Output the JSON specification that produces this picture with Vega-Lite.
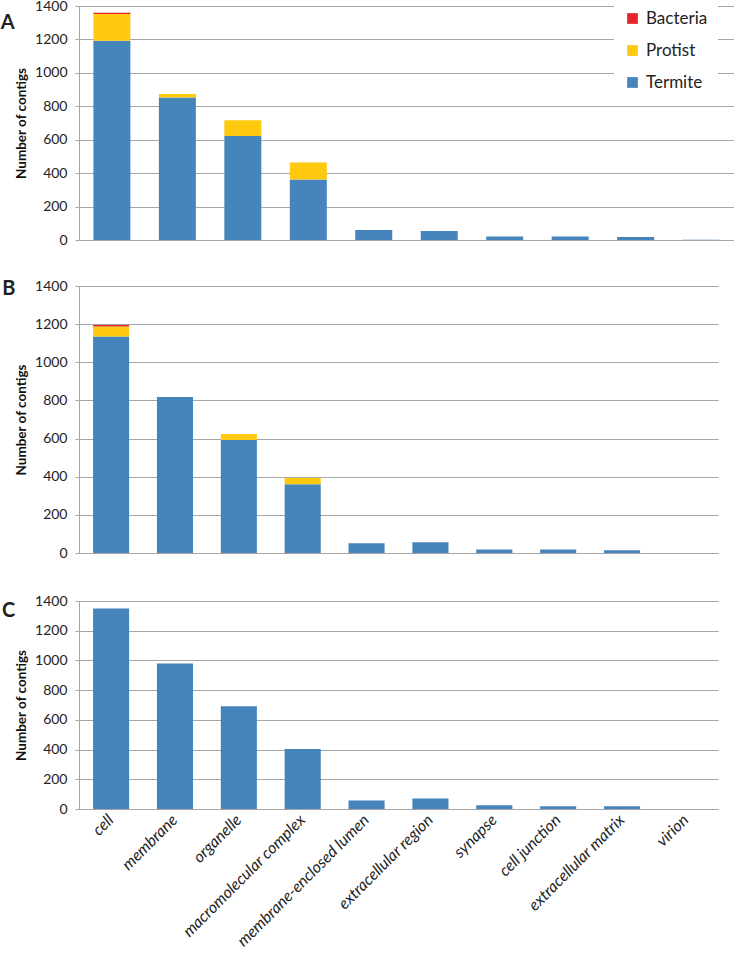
{
  "$schema": "https://vega.github.io/schema/vega-lite/v6.json",
  "padding": {"left": 0, "top": -1, "right": 0, "bottom": 0},
  "background": "white",
  "config": {
    "font": "Lato",
    "view": {"stroke": null},
    "axis": {"labelFont": "Lato", "labelFontSize": 14, "labelColor": "#222222", "domainColor": "#A6A6A6", "gridColor": "#A6A6A6", "tickColor": "#A6A6A6", "titleFont": "Lato"},
    "legend": {"labelFont": "Lato"}
  },
  "datasets": {
    "d": [
      {"panel": "A", "category": "cell", "organism": "Termite", "value": 1192},
      {"panel": "A", "category": "cell", "organism": "Protist", "value": 160},
      {"panel": "A", "category": "cell", "organism": "Bacteria", "value": 8},
      {"panel": "A", "category": "membrane", "organism": "Termite", "value": 853},
      {"panel": "A", "category": "membrane", "organism": "Protist", "value": 20},
      {"panel": "A", "category": "organelle", "organism": "Termite", "value": 622},
      {"panel": "A", "category": "organelle", "organism": "Protist", "value": 94},
      {"panel": "A", "category": "macromolecular complex", "organism": "Termite", "value": 362},
      {"panel": "A", "category": "macromolecular complex", "organism": "Protist", "value": 102},
      {"panel": "A", "category": "membrane-enclosed lumen", "organism": "Termite", "value": 60},
      {"panel": "A", "category": "extracellular region", "organism": "Termite", "value": 54},
      {"panel": "A", "category": "synapse", "organism": "Termite", "value": 21},
      {"panel": "A", "category": "cell junction", "organism": "Termite", "value": 21},
      {"panel": "A", "category": "extracellular matrix", "organism": "Termite", "value": 18},
      {"panel": "A", "category": "virion", "organism": "Termite", "value": 2},
      {"panel": "B", "category": "cell", "organism": "Termite", "value": 1135},
      {"panel": "B", "category": "cell", "organism": "Protist", "value": 52},
      {"panel": "B", "category": "cell", "organism": "Bacteria", "value": 8},
      {"panel": "B", "category": "membrane", "organism": "Termite", "value": 818},
      {"panel": "B", "category": "organelle", "organism": "Termite", "value": 593},
      {"panel": "B", "category": "organelle", "organism": "Protist", "value": 31},
      {"panel": "B", "category": "macromolecular complex", "organism": "Termite", "value": 361},
      {"panel": "B", "category": "macromolecular complex", "organism": "Protist", "value": 32},
      {"panel": "B", "category": "membrane-enclosed lumen", "organism": "Termite", "value": 51},
      {"panel": "B", "category": "extracellular region", "organism": "Termite", "value": 56},
      {"panel": "B", "category": "synapse", "organism": "Termite", "value": 19},
      {"panel": "B", "category": "cell junction", "organism": "Termite", "value": 19},
      {"panel": "B", "category": "extracellular matrix", "organism": "Termite", "value": 14},
      {"panel": "B", "category": "virion", "organism": "Termite", "value": 0},
      {"panel": "C", "category": "cell", "organism": "Termite", "value": 1349},
      {"panel": "C", "category": "membrane", "organism": "Termite", "value": 979},
      {"panel": "C", "category": "organelle", "organism": "Termite", "value": 691},
      {"panel": "C", "category": "macromolecular complex", "organism": "Termite", "value": 404},
      {"panel": "C", "category": "membrane-enclosed lumen", "organism": "Termite", "value": 57},
      {"panel": "C", "category": "extracellular region", "organism": "Termite", "value": 70},
      {"panel": "C", "category": "synapse", "organism": "Termite", "value": 25},
      {"panel": "C", "category": "cell junction", "organism": "Termite", "value": 18},
      {"panel": "C", "category": "extracellular matrix", "organism": "Termite", "value": 18},
      {"panel": "C", "category": "virion", "organism": "Termite", "value": 0}
    ]
  },
  "spacing": 32,
  "resolve": {"legend": {"color": "independent"}},
  "vconcat": [
    {
      "width": 655,
      "height": 234,
      "title": {"text": "A", "orient": "left", "anchor": "end", "frame": "group", "angle": 0, "align": "right", "baseline": "top", "fontSize": 20, "fontWeight": "bold", "font": "Lato", "offset": -14, "dy": 7, "color": "#231F20"},
      "data": {"name": "d"},
      "transform": [{"filter": "datum.panel === 'A'"}],
      "mark": {"type": "bar"},
      "encoding": {
        "x": {"field": "category", "type": "nominal", "sort": ["cell", "membrane", "organelle", "macromolecular complex", "membrane-enclosed lumen", "extracellular region", "synapse", "cell junction", "extracellular matrix", "virion"], "scale": {"paddingInner": 0.435, "paddingOuter": 0.22}, "axis": {"labels": false, "ticks": false, "title": null}},
        "y": {"field": "value", "type": "quantitative", "stack": "zero", "scale": {"domain": [0, 1400]}, "axis": {"values": [0, 200, 400, 600, 800, 1000, 1200, 1400], "format": "d", "title": "Number of contigs", "titleFontWeight": "bold", "titleFontSize": 13.5, "titleColor": "#111111", "titlePadding": 6, "tickSize": 4, "labelPadding": 8, "grid": true}},
        "color": {"field": "organism", "type": "nominal", "scale": {"domain": ["Bacteria", "Protist", "Termite"], "range": ["#E8242B", "#FFC910", "#4585BC"]}, "legend": {"orient": "none", "legendX": 535, "legendY": -6, "title": null, "symbolType": "square", "symbolSize": 115, "symbolStrokeWidth": 0, "labelFontSize": 17, "labelColor": "#222222", "rowPadding": 14, "labelOffset": 5, "fillColor": "white", "padding": 10}},
        "order": {"field": "organism", "sort": "descending"}
      }
    },
    {
      "spacing": 34,
      "vconcat": [
        {
          "width": 639,
          "height": 267,
          "title": {"text": "B", "orient": "left", "anchor": "end", "frame": "group", "angle": 0, "align": "right", "baseline": "top", "fontSize": 20, "fontWeight": "bold", "font": "Lato", "offset": -14, "dy": -7, "color": "#231F20"},
          "data": {"name": "d"},
          "transform": [{"filter": "datum.panel === 'B'"}],
          "mark": {"type": "bar"},
          "encoding": {
            "x": {"field": "category", "type": "nominal", "sort": ["cell", "membrane", "organelle", "macromolecular complex", "membrane-enclosed lumen", "extracellular region", "synapse", "cell junction", "extracellular matrix", "virion"], "scale": {"paddingInner": 0.435, "paddingOuter": 0.22}, "axis": {"labels": false, "ticks": false, "title": null}},
            "y": {"field": "value", "type": "quantitative", "stack": "zero", "scale": {"domain": [0, 1400]}, "axis": {"values": [0, 200, 400, 600, 800, 1000, 1200, 1400], "format": "d", "title": "Number of contigs", "titleFontWeight": "bold", "titleFontSize": 13.5, "titleColor": "#111111", "titlePadding": 6, "tickSize": 4, "labelPadding": 8, "grid": true}},
            "color": {"field": "organism", "type": "nominal", "scale": {"domain": ["Bacteria", "Protist", "Termite"], "range": ["#E8242B", "#FFC910", "#4585BC"]}, "legend": null},
            "order": {"field": "organism", "sort": "descending"}
          }
        },
        {
          "width": 639,
          "height": 208,
          "title": {"text": "C", "orient": "left", "anchor": "end", "frame": "group", "angle": 0, "align": "right", "baseline": "top", "fontSize": 20, "fontWeight": "bold", "font": "Lato", "offset": -14, "dy": 0, "color": "#231F20"},
          "data": {"name": "d"},
          "transform": [{"filter": "datum.panel === 'C'"}],
          "mark": {"type": "bar"},
          "encoding": {
            "x": {"field": "category", "type": "nominal", "sort": ["cell", "membrane", "organelle", "macromolecular complex", "membrane-enclosed lumen", "extracellular region", "synapse", "cell junction", "extracellular matrix", "virion"], "scale": {"paddingInner": 0.435, "paddingOuter": 0.22}, "axis": {"ticks": false, "title": null, "labelAngle": -45, "labelAlign": "right", "labelBaseline": "middle", "labelFontStyle": "italic", "labelFontSize": 16, "labelPadding": 8, "labelLimit": 300}},
            "y": {"field": "value", "type": "quantitative", "stack": "zero", "scale": {"domain": [0, 1400]}, "axis": {"values": [0, 200, 400, 600, 800, 1000, 1200, 1400], "format": "d", "title": "Number of contigs", "titleFontWeight": "bold", "titleFontSize": 13.5, "titleColor": "#111111", "titlePadding": 6, "tickSize": 4, "labelPadding": 8, "grid": true}},
            "color": {"field": "organism", "type": "nominal", "scale": {"domain": ["Bacteria", "Protist", "Termite"], "range": ["#E8242B", "#FFC910", "#4585BC"]}, "legend": null},
            "order": {"field": "organism", "sort": "descending"}
          }
        }
      ]
    }
  ]
}
